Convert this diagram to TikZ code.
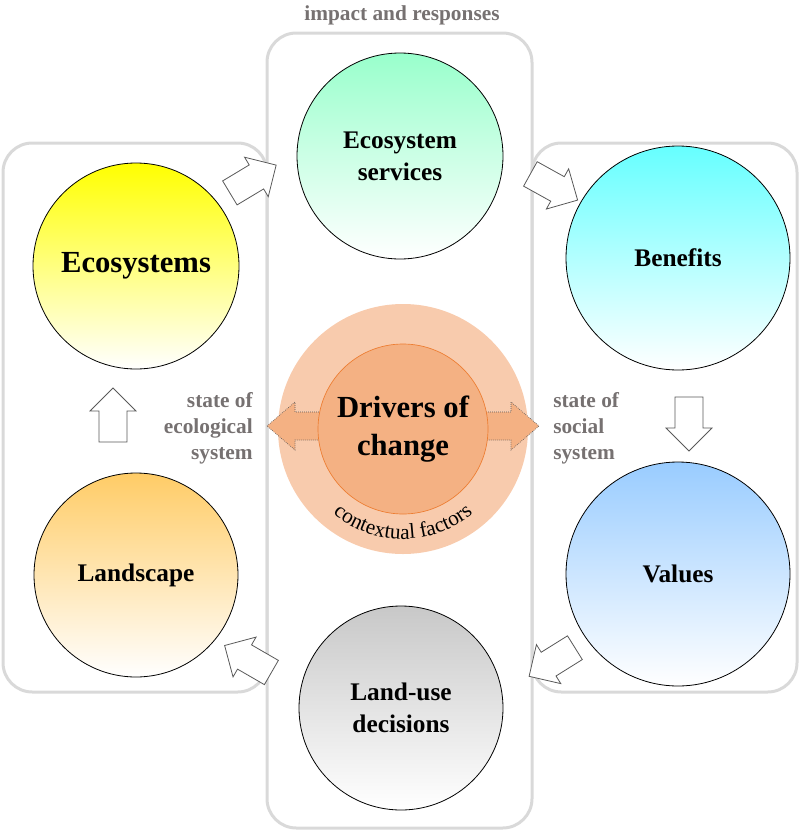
\documentclass[tikz,border=0pt]{standalone}
\usepackage{fontspec}
\setmainfont{Liberation Serif}
\usetikzlibrary{positioning,calc,decorations.text}
\definecolor{FrameGray}{RGB}{217,217,217}
\definecolor{LabelGray}{RGB}{118,113,113}
\definecolor{EdgeGray}{RGB}{89,89,89}
\definecolor{ContextPeach}{RGB}{248,203,173}
\definecolor{DriverOrange}{RGB}{244,177,131}
\definecolor{DriverLine}{RGB}{237,125,49}
\definecolor{EcoYellow}{RGB}{255,255,0}
\definecolor{ServiceMint}{RGB}{153,255,204}
\definecolor{BenefitCyan}{RGB}{102,255,255}
\definecolor{ValueBlue}{RGB}{153,204,255}
\definecolor{DecisionGray}{RGB}{200,200,200}
\definecolor{LandOrange}{RGB}{255,204,102}

\begin{document}
\begin{tikzpicture}[x=0.75pt, y=-0.75pt, every node/.style={align=center, inner sep=0pt},
  frame/.style={draw=FrameGray, line width=2.25pt, rounded corners=22pt},
  bubble/.style={circle, draw=black, line width=0.6pt, bottom color=white, font=\bfseries\fontsize{19}{24}\selectfont},
  graylabel/.style={text=LabelGray, font=\bfseries\fontsize{16}{19.5}\selectfont},
  pics/blockarr/.style={code={\draw[draw=EdgeGray, fill=white, line width=0.6pt] (-27,-14) -- (4,-14) -- (4,-23) -- (27,0) -- (4,23) -- (4,14) -- (-27,14) -- cycle;}}]
  \useasboundingbox (0,0) rectangle (800,832);
  \draw[frame] (3,143) rectangle (267,692);
  \draw[frame] (532,143) rectangle (797,692);
  \draw[frame] (267,33) rectangle (532,828);
  \node[graylabel] (impact) at (402,15) {impact and responses};

  \node[bubble, minimum size=154.5pt, top color=EcoYellow, font=\bfseries\fontsize{23}{28}\selectfont] (ecosys) at (136,266) {Ecosystems};
  \node[bubble, minimum size=154.5pt, top color=ServiceMint] (services) at (400,156) {Ecosystem\\services};
  \node[bubble, minimum size=168pt, top color=BenefitCyan] (benefits) at (678,258) {Benefits};
  \node[bubble, minimum size=168pt, top color=ValueBlue] (values) at (678,574) {Values};
  \node[bubble, minimum size=153pt, top color=DecisionGray] (decisions) at (401,708) {Land-use\\decisions};
  \node[bubble, minimum size=153pt, top color=LandOrange] (landscape) at (136,575) {Landscape};

  \pic[rotate=31] at (253,179) {blockarr};
  \pic[rotate=-29] at (554,187) {blockarr};
  \pic[rotate=-90] at (689,424) {blockarr};
  \pic[rotate=212] at (552,662) {blockarr};
  \pic[rotate=150] at (248,659) {blockarr};
  \pic[rotate=90] at (113,415) {blockarr};

  \node[circle, fill=ContextPeach, minimum size=187.5pt] (context) at (403,429) {};
  \draw[draw=EdgeGray, densely dotted, line width=0.5pt, fill=DriverOrange] (267,426) -- (295,402) -- (295,412) -- (511,412) -- (511,402) -- (539,426) -- (511,450) -- (511,440) -- (295,440) -- (295,450) -- cycle;
  \node[circle, draw=DriverLine, line width=0.5pt, fill=DriverOrange, minimum size=127.5pt, font=\bfseries\fontsize{23}{28}\selectfont] (drivers) at (context) {Drivers of\\change};
  \path[decorate, decoration={text along path, text align=center, text={|\fontsize{16}{19}\selectfont|contextual factors}}] ($(context)+(140:110)$) arc[start angle=140, end angle=40, radius=110];

  \node[graylabel, anchor=east, align=right] (ecostate) at (253,428) {state of\\ecological\\system};
  \node[graylabel, anchor=west, align=left] (socstate) at (553,428) {state of\\social\\system};
\end{tikzpicture}
\end{document}
